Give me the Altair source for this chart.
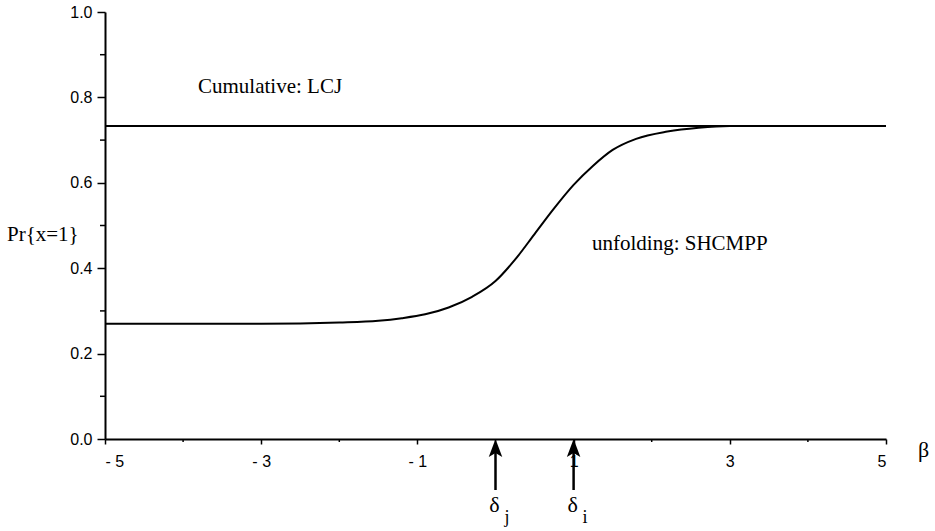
import altair as alt
import pandas as pd

# ---- data ----
curve_x = [-5, -3, -2, -1.5, -1.2, -0.9, -0.6, -0.3, 0, 0.25, 0.5, 0.75, 1.0, 1.25,
           1.5, 1.8, 2.2, 2.6, 3.0, 5]
curve_y = [0.27, 0.27, 0.273, 0.277, 0.283, 0.292, 0.308, 0.333, 0.37, 0.42, 0.48,
           0.54, 0.595, 0.64, 0.677, 0.703, 0.72, 0.729, 0.733, 0.733]
cum_x = [-5, 5]
cum_y = [0.733, 0.733]
delta_pos = [0.0, 1.0]
delta_sub = ["j", "i"]
x_major = [-5, -3, -1, 1, 3, 5]
x_minor = [-4, -2, 0, 2, 4]
y_major = [0.0, 0.2, 0.4, 0.6, 0.8, 1.0]
y_minor = [0.1, 0.3, 0.5, 0.7, 0.9]

W, H = 781, 427
SERIF = "Liberation Serif"
SANS = "Liberation Sans"

xs = alt.Scale(domain=[-5, 5], nice=False, zero=False)
ys = alt.Scale(domain=[0, 1], nice=False, zero=False)

x_axis = alt.Axis(values=x_major, title=None, grid=False,
                  labelExpr="datum.value < 0 ? '- ' + abs(datum.value) : '' + datum.value",
                  labelFont=SANS, labelFontSize=16, labelColor="black",
                  tickSize=5, tickWidth=1.5, tickColor="black",
                  domainWidth=2, domainColor="black", labelPadding=9)
y_axis = alt.Axis(values=y_major, title=None, grid=False, format=".1f",
                  labelFont=SANS, labelFontSize=16, labelColor="black",
                  tickSize=8, tickWidth=1.5, tickColor="black",
                  domainWidth=2, domainColor="black", labelPadding=5)

curve_df = pd.DataFrame({"x": curve_x, "y": curve_y})
cum_df = pd.DataFrame({"x": cum_x, "y": cum_y})
delta_df = pd.DataFrame({"x": delta_pos, "sub": delta_sub})
xminor_df = pd.DataFrame({"x": x_minor})
yminor_df = pd.DataFrame({"y": y_minor})

curve = alt.Chart(curve_df).mark_line(color="black", strokeWidth=2, interpolate="monotone").encode(
    x=alt.X("x:Q", scale=xs, axis=x_axis),
    y=alt.Y("y:Q", scale=ys, axis=y_axis),
)
cum = alt.Chart(cum_df).mark_line(color="black", strokeWidth=2).encode(
    x=alt.X("x:Q", scale=xs), y=alt.Y("y:Q", scale=ys)
)

xminor = alt.Chart(xminor_df).mark_rule(color="black", strokeWidth=1.5).encode(
    x=alt.X("x:Q", scale=xs), y=alt.value(H), y2=alt.value(H + 3)
)
yminor = alt.Chart(yminor_df).mark_rule(color="black", strokeWidth=1.5).encode(
    y=alt.Y("y:Q", scale=ys), x=alt.value(-5), x2=alt.value(0)
)

shaft = alt.Chart(delta_df).mark_rule(color="black", strokeWidth=2.5).encode(
    x=alt.X("x:Q", scale=xs), y=alt.value(H + 9), y2=alt.value(H + 51)
)
head = alt.Chart(delta_df).mark_point(
    shape="M0,-1L0.75,1L0,0.55L-0.75,1Z", size=324, filled=True,
    color="black", opacity=1, strokeWidth=0
).encode(x=alt.X("x:Q", scale=xs), y=alt.value(H + 9))
delta = alt.Chart(delta_df).mark_text(
    text="δ", font=SERIF, fontSize=22, align="center", baseline="alphabetic", dx=-1, color="black"
).encode(x=alt.X("x:Q", scale=xs), y=alt.value(H + 73))
sub = alt.Chart(delta_df).mark_text(
    font=SERIF, fontSize=18, align="left", baseline="alphabetic", dx=9, color="black"
).encode(x=alt.X("x:Q", scale=xs), y=alt.value(H + 84), text="sub:N")

def label(txt, px, py, size=21, align="left", baseline="alphabetic"):
    return alt.Chart(pd.DataFrame({"t": [txt]})).mark_text(
        font=SERIF, fontSize=size, align=align, baseline=baseline, color="black"
    ).encode(x=alt.value(px), y=alt.value(py), text="t:N")

lab_cum = label("Cumulative: LCJ", 93, 81)
lab_unf = label("unfolding: SHCMPP", 487, 238)
lab_pr = label("Pr{x=1}", -98, 229)
lab_beta = label("β", 813, 438, size=22, baseline="middle")

chart = alt.layer(
    curve, cum, xminor, yminor, shaft, head, delta, sub,
    lab_cum, lab_unf, lab_pr, lab_beta
).properties(
    width=W, height=H,
    padding={"left": 105, "top": 12, "right": 49, "bottom": 92},
    autosize=alt.AutoSizeParams(type="none"),
    background="white",
).configure_view(stroke=None)

chart.save("out.html", embed_options={"renderer": "svg", "actions": False})
